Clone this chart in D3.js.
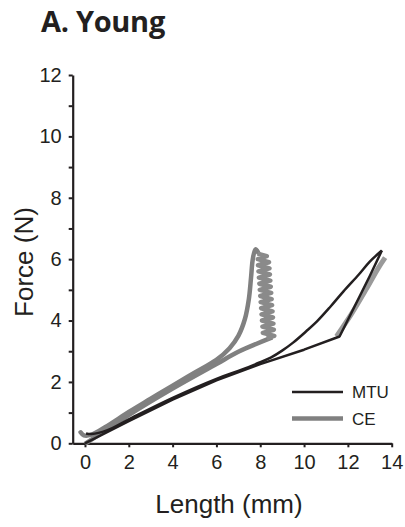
<!DOCTYPE html>
<html>
<head>
<meta charset="utf-8">
<script src="https://cdn.jsdelivr.net/npm/d3@7"></script>
<style>
body { margin: 0; background: #fff; }
text { font-family: "Liberation Sans", Arial, sans-serif; fill: #231f20; }
</style>
</head>
<body>
<script>
var width = 405;
var height = 527;

// MTU (black) - loading branch then unloading branch
var mtuLoad = [[0, 0], [2, 0.72], [4, 1.42], [6, 2.05], [8, 2.58], [10, 3.05], [11.62, 3.48], [12.3, 4.45], [13.0, 5.45], [13.55, 6.28]];
var mtuUnload = [[13.55, 6.28], [13.0, 5.92], [12.5, 5.5], [11.8, 4.95], [11.2, 4.45], [10.6, 3.98], [10.1, 3.65], [9.5, 3.28], [9.0, 3.02], [8.5, 2.8], [8, 2.64], [7, 2.36], [6, 2.1], [4, 1.48], [2, 0.78], [1, 0.42], [0.3, 0.3], [0.05, 0.32]];

// CE (grey)
var ceLoad = [[-0.2, 0.36], [-0.05, 0.26], [0.3, 0.28], [1, 0.56], [2, 1.02], [3, 1.45], [4, 1.88], [5, 2.3], [6, 2.72], [6.6, 3.1], [7.0, 3.5], [7.3, 4.05], [7.48, 4.7], [7.58, 5.4], [7.66, 6.0], [7.78, 6.32], [7.9, 6.22]];
var ceZigzag = [[7.88, 6.18], [8.3, 6.1], [7.89, 6.0], [8.4, 5.9], [7.9, 5.8], [8.42, 5.7], [7.92, 5.6], [8.44, 5.5], [7.94, 5.4], [8.46, 5.3], [7.96, 5.2], [8.48, 5.1], [7.98, 5.0], [8.5, 4.9], [8.0, 4.8], [8.52, 4.7], [8.02, 4.6], [8.54, 4.5], [8.04, 4.4], [8.56, 4.3], [8.06, 4.2], [8.58, 4.1], [8.08, 4.0], [8.6, 3.9], [8.1, 3.8], [8.62, 3.7], [8.12, 3.6], [8.64, 3.5], [8.3, 3.42]];
var ceUnload = [[8.55, 3.45], [7, 2.98], [6, 2.58], [4, 1.78], [2, 0.92], [1, 0.45], [0, -0.02]];
var ceSegment = [[11.48, 3.48], [12.15, 4.2], [12.82, 5.0], [13.38, 5.7], [13.7, 6.05]];

var xTicks = [0, 2, 4, 6, 8, 10, 12, 14];
var yTicks = [0, 1, 2, 3, 4, 5, 6, 7, 8, 9, 10, 11, 12];
var yLabels = [0, 2, 4, 6, 8, 10, 12];
var legendNames = ["MTU", "CE"];
var legendColors = ["#231f20", "#808080"];
var legendWidths = [2.5, 4.5];

var svg = d3.select("body")
    .append("svg")
    .attr("width", width)
    .attr("height", height);

var x = d3.scaleLinear().domain([-0.56, 14]).range([72.7, 391.7]);
var y = d3.scaleLinear().domain([0, 12]).range([443.3, 75]);

var line = d3.line()
    .x(function(d) { return x(d[0]); })
    .y(function(d) { return y(d[1]); })
    .curve(d3.curveCatmullRom);

var straight = d3.line()
    .x(function(d) { return x(d[0]); })
    .y(function(d) { return y(d[1]); });

// title
svg.append("text")
    .attr("x", 41)
    .attr("y", 32)
    .style("font-family", "'Open Sans', sans-serif")
    .style("font-weight", "bold")
    .style("font-size", "29px")
    .style("letter-spacing", "-0.3px")
    .text("A. Young");

// axes
var xAxis = svg.append("g")
    .attr("transform", "translate(0," + y(0) + ")")
    .call(d3.axisBottom(x).tickValues(xTicks).tickSize(4).tickPadding(6).tickSizeOuter(0));

var yAxis = svg.append("g")
    .attr("transform", "translate(" + x(-0.56) + ",0)")
    .call(d3.axisLeft(y).tickValues(yTicks).tickSize(4).tickPadding(7).tickSizeOuter(0)
        .tickFormat(function(d) { return yLabels.indexOf(d) >= 0 ? d : ""; }));

svg.selectAll(".domain").attr("stroke", "#231f20").attr("stroke-width", 2.2);
svg.selectAll(".tick line").attr("stroke", "#231f20").attr("stroke-width", 2);
svg.selectAll(".tick text")
    .style("font-family", "'Liberation Sans', Arial, sans-serif")
    .style("font-size", "20px")
    .attr("fill", "#231f20");
xAxis.selectAll(".tick text").attr("dy", "0.8em");

// axis labels
svg.append("text")
    .attr("x", 229)
    .attr("y", 513)
    .attr("text-anchor", "middle")
    .style("font-size", "26px")
    .text("Length (mm)");

svg.append("text")
    .attr("transform", "translate(33,262) rotate(-90)")
    .attr("text-anchor", "middle")
    .style("font-size", "26px")
    .text("Force (N)");

// CE curves
var grey = "#808080";
svg.append("path").datum(ceUnload).attr("d", line)
    .attr("fill", "none").attr("stroke", grey).attr("stroke-width", 4.5).attr("stroke-linejoin", "round");
svg.append("path").datum(ceLoad).attr("d", line)
    .attr("fill", "none").attr("stroke", grey).attr("stroke-width", 4.5).attr("stroke-linejoin", "round").attr("stroke-linecap", "round");
svg.append("path").datum(ceZigzag).attr("d", straight)
    .attr("fill", "none").attr("stroke", "#8a8a8a").attr("stroke-width", 4.5).attr("stroke-linejoin", "round");
svg.append("path").datum(ceSegment).attr("d", line)
    .attr("fill", "none").attr("stroke", "#9a9a9a").attr("stroke-width", 5);

// MTU curves
svg.append("path").datum(mtuLoad).attr("d", straight)
    .attr("fill", "none").attr("stroke", "#231f20").attr("stroke-width", 2.5).attr("stroke-linejoin", "round");
svg.append("path").datum(mtuUnload).attr("d", line)
    .attr("fill", "none").attr("stroke", "#231f20").attr("stroke-width", 2.5).attr("stroke-linejoin", "round");

// legend
var legend = svg.selectAll(".legend")
    .data(legendNames)
    .enter().append("g")
    .attr("class", "legend")
    .attr("transform", function(d, i) { return "translate(292," + (392 + i * 26.5) + ")"; });

legend.append("line")
    .attr("x1", 0).attr("x2", 51)
    .attr("y1", 0).attr("y2", 0)
    .attr("stroke", function(d, i) { return legendColors[i]; })
    .attr("stroke-width", function(d, i) { return legendWidths[i]; });

legend.append("text")
    .attr("x", 60)
    .attr("y", 6)
    .style("font-size", "17px")
    .text(function(d) { return d; });
</script>
</body>
</html>
